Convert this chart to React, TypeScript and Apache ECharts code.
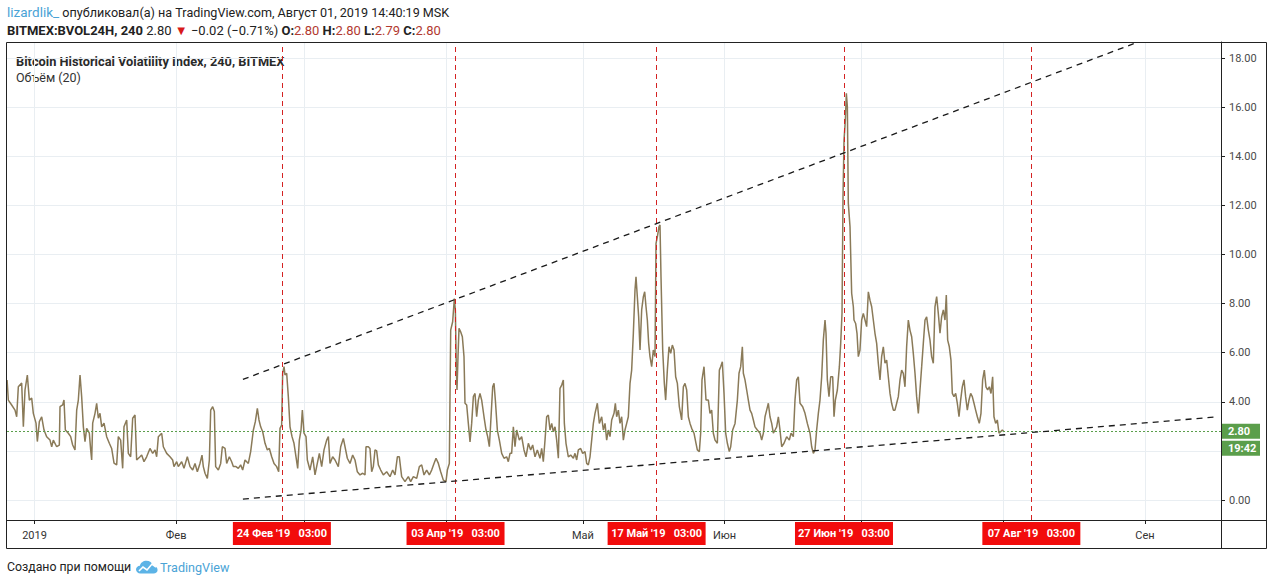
import React, { useEffect, useRef } from "react";
import * as echarts from "echarts";

const DAY_MS = 86400000;

// Bitcoin Historical Volatility Index (BVOL24H), 4h closes — [day offset from 1 Jan 2019, value]
const volDecJan = [
  [-6.0, 4.89], [-5.73, 4.07], [-5.0, 3.87], [-4.27, 3.66], [-3.9, 3.39], [-3.54, 4.61], [-2.81, 4.76], [-2.44, 2.98],
  [-2.08, 4.48], [-1.57, 5.09], [-1.13, 4.07], [-0.62, 4.15], [-0.26, 3.53], [0.33, 3.13], [0.62, 2.38], [1.06, 3.19],
  [1.57, 3.39], [2.08, 2.85], [2.66, 2.58], [3.39, 2.44], [3.76, 2.17], [4.12, 2.44], [4.85, 2.17], [5.43, 2.24],
  [5.58, 3.8], [6.16, 3.87], [6.45, 4.07], [6.75, 2.85], [7.4, 2.72], [7.91, 2.58], [8.35, 2.24], [8.86, 2.04],
  [9.23, 3.66], [9.59, 4.07], [9.96, 5.09], [10.32, 4.2], [10.69, 2.98], [11.05, 2.38], [11.41, 2.92], [12.0, 2.72],
  [12.29, 2.04], [12.51, 1.63], [12.73, 3.13], [13.24, 3.53], [13.6, 3.94], [13.97, 3.33], [14.33, 3.53], [14.7, 2.98],
  [15.21, 3.13], [15.79, 2.58], [16.37, 2.31], [16.88, 2.1], [17.4, 1.5], [17.98, 1.43], [18.34, 2.58], [18.85, 2.44],
  [19.29, 1.29], [19.58, 2.98], [20.17, 3.26], [20.53, 1.9], [21.04, 1.76], [21.48, 3.33], [21.99, 3.46], [22.35, 1.63],
  [23.08, 1.76], [23.45, 1.83], [23.96, 1.56], [24.54, 1.76], [25.27, 2.1], [25.86, 1.9], [26.37, 2.04], [26.73, 1.76],
  [27.1, 2.58], [27.83, 2.72], [28.19, 2.17], [28.92, 1.9], [29.65, 1.76], [30.23, 1.63], [30.52, 1.36], [31.11, 1.56],
];
const volFebMar = [
  [31.47, 1.36], [32.2, 1.56], [32.71, 1.29], [33.44, 1.76], [34.03, 1.36], [34.61, 1.22], [35.12, 1.49], [35.63, 1.15],
  [36.21, 1.49], [36.65, 1.83], [36.94, 1.36], [37.31, 1.09], [37.82, 0.88], [38.26, 1.63], [38.55, 3.66], [38.99, 3.8],
  [39.35, 3.6], [39.64, 1.36], [40.23, 1.22], [40.74, 1.49], [41.1, 2.17], [41.69, 2.1], [42.05, 1.49], [42.63, 1.76],
  [43.14, 1.56], [43.51, 1.36], [44.09, 1.36], [44.6, 1.29], [45.11, 1.43], [45.55, 1.22], [46.06, 1.63], [46.79, 1.49],
  [47.3, 1.97], [47.89, 2.85], [48.32, 3.19], [48.76, 3.73], [49.12, 3.26], [49.49, 2.98], [49.93, 2.78], [50.44, 2.31],
  [50.95, 2.04], [51.39, 2.1], [51.9, 1.76], [52.41, 1.49], [52.99, 1.36], [53.43, 1.15], [53.72, 2.92], [54.08, 3.05],
  [54.3, 5.16], [54.6, 5.43], [54.81, 5.09], [55.18, 5.16], [55.54, 4.21], [55.91, 2.98], [56.35, 2.58], [56.78, 2.31],
  [57.22, 1.76], [57.59, 1.29], [57.95, 2.44], [58.32, 2.85], [58.61, 3.66], [58.97, 2.72], [59.41, 2.58], [59.7, 1.63],
  [60.28, 1.22], [60.87, 1.76], [61.38, 1.02], [61.74, 1.36], [62.33, 1.9], [62.84, 1.36], [63.35, 2.04], [63.93, 2.44],
  [64.3, 2.58], [64.66, 1.49], [65.24, 1.76], [65.76, 1.63], [66.48, 1.36], [67.0, 2.17], [67.58, 2.51],
];
const volMarApr = [
  [68.45, 1.7], [69.04, 1.49], [69.62, 1.83], [70.13, 1.63], [70.64, 1.15], [71.23, 1.02], [71.81, 1.09], [72.32, 1.02],
  [72.54, 2.17], [73.05, 2.17], [73.41, 2.1], [73.78, 1.15], [74.14, 1.36], [74.51, 2.04], [74.87, 2.0], [75.24, 1.43],
  [75.75, 1.22], [76.33, 1.02], [77.06, 1.15], [77.79, 0.95], [78.37, 1.22], [78.89, 1.02], [79.4, 1.76], [79.83, 1.76],
  [80.34, 0.95], [81.07, 0.75], [81.8, 0.95], [82.31, 0.75], [82.9, 0.95], [83.63, 0.88], [84.21, 1.36], [84.72, 1.43],
  [85.23, 1.02], [85.81, 1.22], [86.4, 1.02], [86.91, 1.22], [87.42, 1.49], [87.86, 1.7], [88.37, 1.49], [88.88, 1.15],
  [89.46, 0.81], [90.04, 0.75], [90.34, 1.22], [90.77, 1.49], [91.07, 6.92], [91.5, 7.26], [91.87, 8.2], [92.09, 7.74],
  [92.31, 5.29], [92.45, 4.48], [92.67, 5.84], [92.89, 6.99], [93.25, 6.85], [93.62, 6.65], [93.98, 5.84], [94.2, 3.94],
  [94.57, 3.87], [94.93, 3.12], [95.3, 2.37], [95.66, 3.12], [96.03, 4.21], [96.39, 4.34], [96.75, 3.39], [97.12, 4.07],
  [97.48, 4.34], [97.85, 4.07], [98.36, 3.39], [98.8, 2.85], [99.16, 2.58], [99.53, 2.17], [99.82, 3.12], [100.26, 4.61],
  [100.55, 4.75], [100.84, 4.07], [101.28, 2.85], [101.72, 2.44], [102.23, 1.9], [102.74, 1.7], [103.32, 1.76],
  [103.68, 1.56], [104.05, 1.9], [104.41, 1.9], [104.78, 2.98], [105.14, 2.17], [105.51, 2.85],
];
const volAprMay = [
  [106.09, 2.44], [106.6, 2.58], [107.11, 2.04], [107.55, 1.76], [108.06, 2.31], [108.57, 2.04], [109.01, 2.24],
  [109.52, 1.76], [110.03, 2.04], [110.61, 1.7], [110.98, 2.1], [111.34, 1.56], [111.71, 2.44], [112.07, 3.39],
  [112.44, 3.46], [112.8, 2.85], [113.17, 3.12], [113.53, 2.78], [113.9, 2.98], [114.26, 2.44], [114.63, 1.7],
  [114.99, 4.55], [115.36, 4.68], [115.72, 4.89], [115.94, 3.12], [116.3, 2.31], [116.81, 1.76], [117.33, 1.83],
  [117.91, 1.7], [118.27, 1.9], [118.64, 1.63], [119.0, 2.04], [119.51, 2.1], [119.95, 1.9], [120.46, 1.97],
  [120.83, 1.49], [121.19, 1.43], [121.56, 1.76], [121.92, 2.44], [122.29, 3.12], [122.65, 3.53], [123.16, 3.94],
  [123.6, 3.12], [124.11, 3.39], [124.47, 2.85], [124.84, 3.12], [125.2, 2.44], [125.57, 2.85], [125.93, 2.58],
  [126.3, 3.26], [126.81, 3.53], [127.1, 3.94], [127.39, 3.39], [127.76, 3.66], [128.12, 3.12], [128.48, 3.39],
  [128.85, 2.44], [129.21, 2.85], [129.58, 3.12], [129.94, 3.39], [130.31, 4.75], [130.67, 5.29], [131.04, 6.79],
  [131.4, 8.55], [131.62, 9.09], [131.91, 8.28], [132.2, 7.46], [132.5, 6.11], [132.86, 7.74], [133.23, 8.28],
  [133.52, 8.48], [133.81, 7.87], [134.1, 7.33], [134.39, 6.38], [134.68, 5.84], [135.05, 5.43], [135.41, 6.11],
  [135.78, 5.84], [136.0, 10.45], [136.29, 10.72], [136.65, 11.13], [136.87, 11.2], [137.09, 9.09], [137.46, 6.11],
  [137.82, 4.75], [138.11, 4.07], [138.48, 5.29], [138.84, 6.24], [139.21, 5.97], [139.57, 6.31], [139.94, 6.11],
  [140.3, 5.02], [140.67, 4.75], [141.1, 3.8], [141.61, 3.26], [141.98, 4.61], [142.34, 4.75], [142.71, 4.48],
  [143.07, 3.39], [143.44, 3.12],
];
const volMayJun = [
  [143.8, 2.92], [144.31, 2.72], [144.75, 2.31], [145.04, 2.04], [145.48, 1.97], [145.77, 2.72], [146.06, 4.89],
  [146.5, 5.43], [146.94, 4.07], [147.45, 4.07], [147.81, 3.53], [148.18, 3.66], [148.54, 2.72], [148.91, 2.44],
  [149.42, 2.31], [149.86, 5.29], [150.15, 5.43], [150.51, 5.63], [150.88, 4.34], [151.24, 2.72], [151.61, 2.31],
  [152.04, 1.97], [152.34, 2.17], [152.77, 2.85], [153.29, 3.12], [153.8, 4.07], [154.16, 5.16], [154.53, 5.43],
  [154.89, 6.24], [155.11, 5.16], [155.47, 4.89], [155.84, 4.48], [156.2, 4.07], [156.57, 3.66], [156.93, 3.53],
  [157.3, 3.26], [157.66, 2.98], [158.17, 2.85], [158.76, 2.72], [159.12, 2.44], [159.49, 2.72], [159.85, 3.39],
  [160.21, 3.66], [160.58, 3.94], [160.94, 3.39], [161.31, 3.12], [161.67, 2.72], [162.04, 2.85], [162.4, 2.98],
  [162.77, 3.39], [163.13, 2.85], [163.5, 2.17], [164.01, 2.31], [164.59, 2.58], [165.17, 2.44], [165.54, 2.72],
  [166.05, 2.58], [166.41, 4.07], [166.78, 4.89], [167.14, 5.02], [167.51, 3.94], [168.09, 3.8], [168.6, 3.53],
  [169.11, 3.12], [169.7, 2.72], [170.06, 2.17], [170.43, 1.9], [170.79, 2.04], [171.15, 2.85], [171.52, 3.53],
  [171.88, 4.07], [172.25, 5.02], [172.61, 6.51], [172.98, 7.33], [173.2, 6.79], [173.49, 4.89], [173.85, 4.21],
  [174.22, 5.02], [174.66, 5.02], [174.95, 3.39], [175.24, 4.07], [175.68, 4.48], [176.12, 5.43], [176.41, 6.38],
  [176.7, 7.6], [176.92, 12.35], [177.14, 14.66], [177.43, 15.47], [177.65, 16.56], [177.87, 16.01], [178.08, 12.08],
  [178.45, 11.13], [178.81, 8.42], [179.18, 7.87],
];
const volJunAug = [
  [179.32, 7.33], [179.68, 7.19], [179.98, 6.79], [180.27, 5.84], [180.63, 6.11], [181.0, 7.33], [181.36, 7.6],
  [181.73, 7.33], [182.09, 7.06], [182.46, 8.48], [182.82, 8.14], [183.19, 7.87], [183.55, 7.33], [183.91, 6.79],
  [184.28, 6.38], [184.64, 5.57], [185.01, 4.89], [185.37, 5.84], [185.74, 6.24], [186.1, 5.57], [186.47, 5.7],
  [186.83, 5.02], [187.2, 4.34], [187.56, 3.94], [187.93, 3.66], [188.29, 3.66], [188.66, 3.94], [189.02, 4.21],
  [189.39, 4.89], [189.75, 5.29], [190.11, 5.16], [190.48, 4.61], [190.84, 6.24], [191.21, 7.33], [191.57, 6.92],
  [191.94, 6.65], [192.3, 5.97], [192.67, 5.16], [193.03, 4.21], [193.4, 3.53], [193.76, 4.48], [194.13, 5.43],
  [194.49, 6.38], [194.86, 7.33], [195.22, 7.46], [195.59, 6.92], [195.95, 6.51], [196.31, 5.84], [196.68, 5.57],
  [197.04, 7.87], [197.41, 8.28], [197.77, 7.6], [198.14, 6.79], [198.5, 7.46], [198.87, 7.74], [199.23, 7.33],
  [199.52, 8.35], [199.82, 6.51], [200.18, 6.24], [200.54, 5.7], [200.84, 4.34], [201.2, 4.21], [201.57, 4.34],
  [201.93, 3.94], [202.3, 3.39], [202.66, 4.07], [203.02, 4.61], [203.39, 4.89], [203.75, 4.21], [204.12, 3.66],
  [204.48, 4.07], [204.85, 4.34], [205.21, 4.21], [205.58, 3.94], [205.94, 3.66], [206.31, 3.39], [206.74, 3.12],
  [207.11, 3.53], [207.47, 4.89], [207.84, 5.29], [208.2, 4.61], [208.57, 4.48], [208.93, 4.61], [209.3, 4.34],
  [209.66, 5.02], [209.95, 3.39], [210.32, 3.12], [210.68, 3.26], [211.05, 2.72], [211.41, 2.78], [211.78, 2.85],
  [212.07, 2.8],
];

const lastValue = 2.8;
const lastTimer = "19:42";

// vertical event markers (day offsets from 1 Jan 2019, at 03:00)
const eventDays = [54.125, 92.125, 136.125, 177.125, 218.125];
const eventDates = ["24 Фев '19", "03 Апр '19", "17 Май '19", "27 Июн '19", "07 Авг '19"];
const eventClock = "03:00";

// hand-drawn trend lines: [day, value]
const upperTrend = [[45.6, 4.91], [241.5, 18.65]];
const lowerTrend = [[45.6, 0.04], [259.0, 3.39]];

const yTicks = [0, 2, 4, 6, 8, 10, 12, 14, 16, 18];
// 2.00 label sits under the last-value badge in the reference
const yLabelTicks = [0, 4, 6, 8, 10, 12, 14, 16, 18];
const hiddenLabelGrid = [2];
const monthNames = ["2019", "Фев", "Мар", "Апр", "Май", "Июн", "Июл", "Авг", "Сен"];
const monthShown = [true, true, false, false, true, true, false, false, true];

const X_MIN_DAY = -6.02;
const X_MAX_DAY = 259.63;
const Y_MIN = -0.814;
const Y_MAX = 18.652;

const FONT = "Roboto, 'Noto Sans', sans-serif";

const CLOUD_PATH =
  "M5 16C2.2 16 0 13.9 0 11.3C0 8.9 1.9 7 4.3 6.9C5 3.4 8 1 11.6 1C15.1 1 18 3.3 18.7 6.5C21.7 6.7 24 9 24 11.7C24 14.1 22 16 19.5 16Z";
echarts.graphic.registerShape("tvCloud", echarts.graphic.extendPath(CLOUD_PATH, {}));

function buildOption(): any {
  const series = [...volDecJan, ...volFebMar, ...volMarApr, ...volAprMay, ...volMayJun, ...volJunAug];
  const monthTickDays = monthNames.map((_, m) => Math.round((Date.UTC(2019, m, 1) - Date.UTC(2019, 0, 1)) / DAY_MS));
  const axisDark = "#1f1f1f";
  const gridColor = "#e9eef2";
  const green = "#5b9e4b";

  const greenLabel = {
    show: true,
    position: "right",
    distance: 1,
    color: "#fff",
    fontWeight: "bold",
    fontSize: 11,
    fontFamily: FONT,
    backgroundColor: green,
    padding: [1, 6, 1, 6],
    lineHeight: 13,
    width: 26,
  };

  return {
    animation: false,
    backgroundColor: "#ffffff",
    textStyle: { fontFamily: FONT },
    grid: { left: 7, top: 42, right: 53, bottom: 66, containLabel: false },
    xAxis: {
      type: "value",
      min: X_MIN_DAY,
      max: X_MAX_DAY,
      axisLine: { show: true, onZero: false, lineStyle: { color: axisDark } },
      axisTick: { show: true, inside: false, length: 4, customValues: monthTickDays, lineStyle: { color: axisDark } },
      axisLabel: {
        customValues: monthTickDays,
        formatter: (v: number) => {
          const m = monthTickDays.indexOf(Math.round(v));
          return m >= 0 && monthShown[m] ? monthNames[m] : "";
        },
        color: "#333",
        fontSize: 11,
        margin: 10,
        fontFamily: FONT,
      },
      splitLine: { show: true, lineStyle: { color: gridColor, width: 1 } },
    },
    yAxis: {
      type: "value",
      position: "right",
      min: Y_MIN,
      max: Y_MAX,
      axisLine: { show: true, onZero: false, lineStyle: { color: axisDark } },
      axisTick: { show: true, inside: false, length: 4, customValues: yTicks, lineStyle: { color: axisDark } },
      axisLabel: {
        customValues: yLabelTicks,
        formatter: (v: number) => v.toFixed(2),
        color: "#4a4a4a",
        fontSize: 11,
        margin: 8,
        fontFamily: FONT,
      },
      splitLine: { show: true, lineStyle: { color: gridColor, width: 1 } },
    },
    series: [
      {
        type: "line",
        name: "BVOL24H",
        data: series,
        showSymbol: false,
        symbol: "none",
        clip: false,
        z: 3,
        lineStyle: { color: "#8a7a58", width: 1.5 },
        markLine: {
          silent: true,
          symbol: ["none", "none"],
          z: 4,
          data: [
            ...eventDays.map((d, i) => ({
              xAxis: d,
              lineStyle: { color: "#d42222", type: [5, 4], width: 1 },
              label: {
                show: true,
                position: "start",
                distance: 2,
                formatter: `${eventDates[i]}   ${eventClock}`,
                color: "#fff",
                fontWeight: "bold",
                fontSize: 11,
                fontFamily: FONT,
                backgroundColor: "#f20c0c",
                padding: [5, 8, 5, 8],
                lineHeight: 13,
                width: 82,
                align: "center",
              },
            })),
            {
              yAxis: lastValue,
              lineStyle: { color: green, type: [2, 2], width: 1 },
              label: { show: false },
            },
          ],
        },
        markPoint: {
          silent: true,
          symbol: "rect",
          symbolSize: 0,
          z: 5,
          data: [
            { coord: [X_MAX_DAY, lastValue], label: { ...greenLabel, formatter: lastValue.toFixed(2) } },
            { coord: [X_MAX_DAY, lastValue], label: { ...greenLabel, formatter: lastTimer, offset: [0, 17] } },
          ],
        },
      },
      {
        type: "line",
        name: "upper",
        data: upperTrend,
        showSymbol: false,
        symbol: "none",
        silent: true,
        z: 4,
        lineStyle: { color: "#1a1a1a", width: 1.3, type: [6, 5] },
      },
      {
        type: "line",
        name: "lower",
        data: lowerTrend,
        showSymbol: false,
        symbol: "none",
        silent: true,
        z: 4,
        lineStyle: { color: "#1a1a1a", width: 1.3, type: [6, 5] },
        markLine: {
          silent: true,
          symbol: ["none", "none"],
          z: 1,
          label: { show: false },
          lineStyle: { color: gridColor, type: "solid", width: 1 },
          data: hiddenLabelGrid.map((v) => ({ yAxis: v })),
        },
      },
    ],
    graphic: [
      {
        type: "rect",
        silent: true,
        z: 100,
        shape: { x: 6.5, y: 42.5, width: 1260, height: 506 },
        style: { fill: null, stroke: "#222", lineWidth: 1 },
      },
      {
        type: "line",
        silent: true,
        z: 100,
        shape: { x1: 1221.5, y1: 42, x2: 1221.5, y2: 548 },
        style: { stroke: "#222", lineWidth: 1 },
      },
      {
        type: "line",
        silent: true,
        z: 100,
        shape: { x1: 7, y1: 520.5, x2: 1266, y2: 520.5 },
        style: { stroke: "#222", lineWidth: 1 },
      },
      {
        type: "text",
        x: 7,
        y: 12,
        style: {
          text: "{u|lizardlik_} опубликовал(а) на TradingView.com, Август 01, 2019 14:40:19 MSK",
          font: `12.6px ${FONT}`,
          fill: "#222",
          verticalAlign: "middle",
          rich: { u: { font: `13.5px ${FONT}`, fill: "#4aa3d6" } },
        },
      },
      {
        type: "text",
        x: 7,
        y: 30,
        style: {
          text:
            "{b|BITMEX:BVOL24H, 240} 2.80 {r|▼} −0.02 (−0.71%) {b|O:}{v|2.80} {b|H:}{v|2.80} {b|L:}{v|2.79} {b|C:}{v|2.80}",
          font: `13px ${FONT}`,
          fill: "#222",
          verticalAlign: "middle",
          rich: {
            b: { font: `bold 13px ${FONT}`, fill: "#222" },
            r: { font: `13px ${FONT}`, fill: "#d81a1a" },
            v: { font: `13px ${FONT}`, fill: "#b23a30" },
          },
        },
      },
      {
        type: "text",
        x: 16,
        y: 61,
        style: {
          text: "Bitcoin Historical Volatility Index, 240, BITMEX",
          font: `bold 12.8px ${FONT}`,
          fill: "#2a2a2a",
          verticalAlign: "middle",
        },
      },
      {
        type: "text",
        x: 16,
        y: 77,
        style: { text: "Объём (20)", font: `12.5px ${FONT}`, fill: "#333", verticalAlign: "middle" },
      },
      {
        type: "text",
        x: 7,
        y: 567,
        style: { text: "Создано при помощи", font: `12.3px ${FONT}`, fill: "#222", verticalAlign: "middle" },
      },
      {
        type: "tvCloud",
        x: 136,
        y: 560,
        scaleX: 0.9,
        scaleY: 0.85,
        silent: true,
        style: { fill: "#5cb3e6" },
      },
      {
        type: "polyline",
        silent: true,
        shape: { points: [[139, 571], [143, 567], [147, 570], [152, 564], [156, 567]] },
        style: { stroke: "#ffffff", lineWidth: 1.6, fill: null },
      },
      {
        type: "text",
        x: 160,
        y: 567,
        style: { text: "TradingView", font: `12.6px ${FONT}`, fill: "#4aa3d6", verticalAlign: "middle" },
      },
    ],
  };
}

export default function App() {
  const ref = useRef<HTMLDivElement>(null);
  useEffect(() => {
    document.body.style.margin = "0";
    const chart = echarts.init(ref.current as HTMLDivElement, null, { renderer: "svg" });
    chart.setOption(buildOption());
    return () => chart.dispose();
  }, []);
  return <div ref={ref} style={{ width: 1274, height: 586 }} />;
}
